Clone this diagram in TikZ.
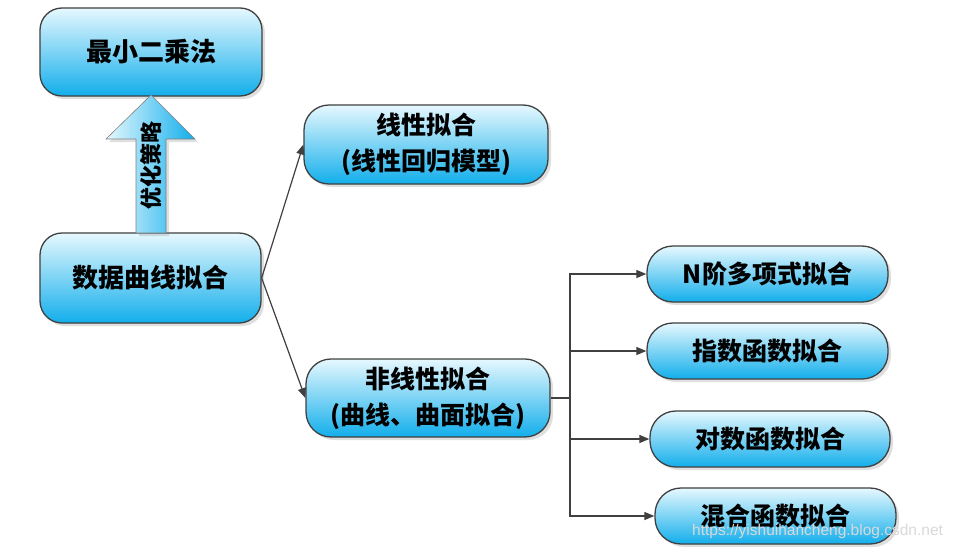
\documentclass[tikz,border=0pt]{standalone}
\usepackage{fontspec}
\newfontfamily\cjk{Noto Sans CJK SC}
\newfontfamily\wmfont{Liberation Sans}
\usetikzlibrary{arrows.meta,shadows}
\definecolor{boxtop}{HTML}{E6F8FE}
\definecolor{boxbot}{HTML}{12AEEB}
\definecolor{lineclr}{HTML}{404040}
\tikzset{
  fitbox/.style={draw=lineclr, line width=1.3pt, top color=boxtop, bottom color=boxbot,
    drop shadow={opacity=0.25, shadow xshift=3pt, shadow yshift=-3pt},
    font=\cjk\bfseries\fontsize{25}{36}\selectfont, align=center, inner sep=0pt},
  conn/.style={draw=lineclr, line width=1.2pt},
  arr/.style={conn, -{Triangle[length=10pt,width=8pt]}},
}
\begin{document}
\begin{tikzpicture}[x=1pt,y=-1pt]
\useasboundingbox[fill=white] (0,0) rectangle (960,549);
% nodes
\node[fitbox, minimum width=222pt, minimum height=88pt, rounded corners=22pt, font=\cjk\bfseries\fontsize{26}{30}\selectfont] (A) at (151,52) {最小二乘法};
\node[fitbox, minimum width=221pt, minimum height=90pt, rounded corners=22pt, font=\cjk\bfseries\fontsize{26}{30}\selectfont] (B) at (150.5,278) {数据曲线拟合};
\node[fitbox, minimum width=244pt, minimum height=79pt, rounded corners=25pt] (C) at (426,144.5) {线性拟合\\(线性回归模型)};
\node[fitbox, minimum width=244pt, minimum height=78pt, rounded corners=25pt] (D) at (428,398) {非线性拟合\\(曲线、曲面拟合)};
\node[fitbox, minimum width=241pt, minimum height=56pt, rounded corners=26pt] (E1) at (767.5,274) {N阶多项式拟合};
\node[fitbox, minimum width=241pt, minimum height=56pt, rounded corners=26pt] (E2) at (767.5,351) {指数函数拟合};
\node[fitbox, minimum width=240pt, minimum height=56pt, rounded corners=26pt] (E3) at (770,439) {对数函数拟合};
\node[fitbox, minimum width=241pt, minimum height=56pt, rounded corners=26pt] (E4) at (775.5,516) {混合函数拟合};
% block arrow
\path[draw=gray, line width=0.6pt, left color=boxtop, right color=boxbot,
  drop shadow={opacity=0.25, shadow xshift=3pt, shadow yshift=-3pt}]
  (151,95) -- (195,139) -- (166,139) -- (166,233) -- (136,233) -- (136,139) -- (106,139) -- cycle;
\node[rotate=90, font=\cjk\bfseries\fontsize{22}{24}\selectfont, inner sep=0pt] (S) at (151,165) {优化策略};
% connectors
\draw[arr] (B.east) -- (C.west);
\draw[arr] (B.east) -- (D.west);
\coordinate (J) at (570,398);
\draw[conn] (D.east) -- (J);
\draw[arr] (J) |- (E1.west);
\draw[arr] (J) |- (E2.west);
\draw[arr] (J) |- (E3.west);
\draw[arr] (J) |- (E4.west);
% watermark
\node[anchor=west, text=white!70!gray, font=\wmfont\fontsize{15.5}{17}\selectfont, inner sep=0pt] (W) at (692,531) {https://yishuihancheng.blog.csdn.net};
\end{tikzpicture}
\end{document}
